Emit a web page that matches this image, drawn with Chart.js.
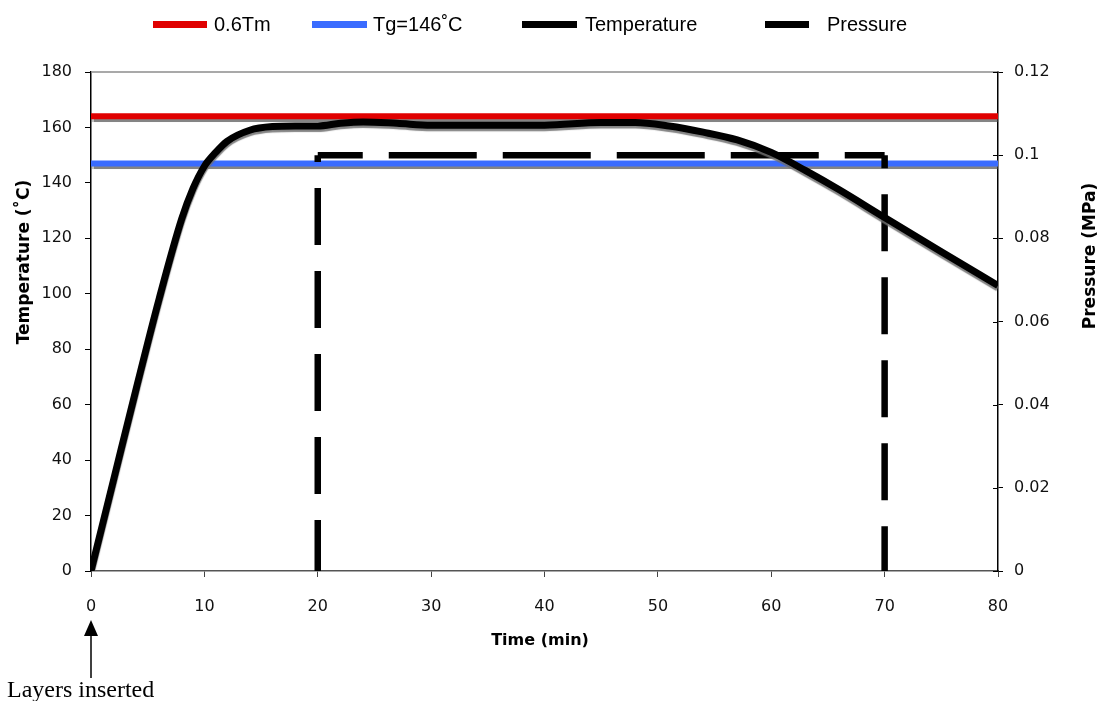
<!DOCTYPE html>
<html>
<head>
<meta charset="utf-8">
<script src="https://cdn.jsdelivr.net/npm/chart.js@4"></script>
<style>
  html, body { margin: 0; padding: 0; background: #fff; }
</style>
</head>
<body>
<canvas id="processChart" width="1100" height="701"></canvas>
<script>
// values
const timeMin = [0, 2, 4, 6, 8, 9, 10, 11, 12, 14, 16, 18, 20, 22, 24, 27, 30, 40, 45, 48, 51, 54, 57, 60, 63, 66, 70, 75, 80];
const tempC = [0, 33, 66, 98, 127, 138, 146, 151, 155, 159, 160.3, 160.5, 160.5, 161.5, 162, 161.5, 160.8, 160.8, 161.8, 161.8, 160.5, 158.3, 155.5, 151, 144.5, 137.5, 127.5, 115.2, 103];
const pressureTime = [20, 20, 70, 70];
const pressureMPa = [0, 0.1, 0.1, 0];
const refTime = [0, 80];
const tmLine = [164, 164];
const tgLine = [147, 147];
const timeTicks = [0, 10, 20, 30, 40, 50, 60, 70, 80];
const tempTicks = [0, 20, 40, 60, 80, 100, 120, 140, 160, 180];
const pressureTicks = [0, 0.02, 0.04, 0.06, 0.08, 0.1, 0.12];

const toPoints = (xs, ys) => xs.map((x, i) => ({ x: x, y: ys[i] }));
const tickFont = { family: 'DejaVu Sans', size: 16 };

// grey drop shadow under the solid lines
const shadowPlugin = {
  id: 'shadow',
  beforeDatasetDraw(chart, args) {
    const ctx = chart.ctx;
    ctx.save();
    if (chart.data.datasets[args.index].shadow) {
      ctx.shadowColor = 'rgba(110,110,110,0.85)';
      ctx.shadowOffsetY = 2.5;
      ctx.shadowBlur = 1;
    }
  },
  afterDatasetDraw(chart) {
    chart.ctx.restore();
  }
};

// frame, titles, legend and the arrow note
const decorPlugin = {
  id: 'decor',
  afterDraw(chart) {
    const ctx = chart.ctx;
    const a = chart.chartArea;
    const y1 = chart.scales.y1;
    ctx.save();
    ctx.strokeStyle = '#8c8c8c';
    ctx.lineWidth = 1.5;
    ctx.beginPath();
    ctx.moveTo(a.left, a.top);
    ctx.lineTo(a.right, a.top);
    ctx.stroke();

    // right ticks cross the axis
    ctx.strokeStyle = '#000';
    ctx.lineWidth = 1;
    pressureTicks.forEach(v => {
      const py = Math.round(y1.getPixelForValue(v)) + 0.5;
      ctx.beginPath();
      ctx.moveTo(a.right - 5, py);
      ctx.lineTo(a.right, py);
      ctx.stroke();
    });

    // axis titles
    ctx.fillStyle = '#000';
    ctx.font = 'bold 16px "DejaVu Sans"';
    ctx.textAlign = 'center';
    ctx.textBaseline = 'middle';
    ctx.fillText('Time (min)', 540, 641);
    ctx.font = 'bold 17px "DejaVu Sans"';
    ctx.save();
    ctx.translate(25, 262);
    ctx.rotate(-Math.PI / 2);
    ctx.fillText('Temperature (˚C)', 0, 0);
    ctx.restore();
    ctx.save();
    ctx.translate(1091, 256);
    ctx.rotate(-Math.PI / 2);
    ctx.fillText('Pressure (MPa)', 0, 0);
    ctx.restore();

    // legend
    const items = [
      { ds: 2, x0: 153, x1: 207, tx: 214 },
      { ds: 3, x0: 312, x1: 367, tx: 373 },
      { ds: 0, x0: 522, x1: 577, tx: 585 },
      { ds: 1, x0: 765, x1: 809, tx: 827 }
    ];
    ctx.font = '20px "Liberation Sans"';
    ctx.textAlign = 'left';
    items.forEach(it => {
      const d = chart.data.datasets[it.ds];
      ctx.fillStyle = d.borderColor;
      ctx.fillRect(it.x0, 21, it.x1 - it.x0, 7);
      ctx.fillStyle = '#000';
      ctx.fillText(d.label, it.tx, 25);
    });

    // "Layers inserted" arrow at t = 0
    const ax = chart.scales.x.getPixelForValue(0);
    ctx.strokeStyle = '#000';
    ctx.lineWidth = 1.5;
    ctx.beginPath();
    ctx.moveTo(ax, 632);
    ctx.lineTo(ax, 678);
    ctx.stroke();
    ctx.beginPath();
    ctx.moveTo(ax, 620);
    ctx.lineTo(ax - 7, 636);
    ctx.lineTo(ax + 7, 636);
    ctx.closePath();
    ctx.fill();
    ctx.font = '24px "Liberation Serif"';
    ctx.textAlign = 'left';
    ctx.textBaseline = 'alphabetic';
    ctx.fillText('Layers inserted', 7, 697);
    ctx.restore();
  }
};

new Chart(document.getElementById('processChart'), {
  type: 'line',
  data: {
    datasets: [
      {
        label: 'Temperature',
        data: toPoints(timeMin, tempC),
        yAxisID: 'y',
        borderColor: '#000',
        borderWidth: 7,
        cubicInterpolationMode: 'monotone',
        pointRadius: 0,
        shadow: true,
        order: 1
      },
      {
        label: 'Pressure',
        data: toPoints(pressureTime, pressureMPa),
        yAxisID: 'y1',
        borderColor: '#000',
        borderWidth: 6.5,
        borderCapStyle: 'butt',
        borderJoinStyle: 'miter',
        pointRadius: 0,
        tension: 0,
        borderDash: [57, 26],
        segment: {
          borderDash: c => c.p0DataIndex === 1 ? [88, 26] : [57, 26],
          borderDashOffset: c => c.p0DataIndex === 1 ? 43 : (c.p0DataIndex === 0 ? 6 : 44)
        },
        order: 2
      },
      {
        label: '0.6Tm',
        data: toPoints(refTime, tmLine),
        yAxisID: 'y',
        borderColor: '#e00000',
        borderWidth: 6,
        pointRadius: 0,
        shadow: true,
        order: 4
      },
      {
        label: 'Tg=146˚C',
        data: toPoints(refTime, tgLine),
        yAxisID: 'y',
        borderColor: '#3a6cff',
        borderWidth: 6,
        pointRadius: 0,
        shadow: true,
        order: 3
      }
    ]
  },
  options: {
    responsive: false,
    animation: false,
    layout: { padding: { top: 72, left: 0, right: 0, bottom: 0 } },
    plugins: {
      legend: { display: false },
      tooltip: { enabled: false }
    },
    scales: {
      x: {
        type: 'linear',
        min: 0,
        max: 80,
        afterBuildTicks: axis => { axis.ticks = timeTicks.map(v => ({ value: v })); },
        afterFit: scale => { scale.height = 130; },
        grid: { drawOnChartArea: false, tickLength: 6, color: '#444' },
        border: { color: '#555', width: 1.5 },
        ticks: { color: '#111', font: tickFont, padding: 20, maxRotation: 0 }
      },
      y: {
        position: 'left',
        min: 0,
        max: 180,
        afterBuildTicks: axis => { axis.ticks = tempTicks.map(v => ({ value: v })); },
        afterFit: scale => { scale.width = 91; },
        grid: { drawOnChartArea: false, tickLength: 6, color: '#000' },
        border: { color: '#000', width: 1.5 },
        ticks: { color: '#111', font: tickFont, padding: 13 }
      },
      y1: {
        position: 'right',
        min: 0,
        max: 0.12,
        afterBuildTicks: axis => { axis.ticks = pressureTicks.map(v => ({ value: v })); },
        afterFit: scale => { scale.width = 102; },
        grid: { drawOnChartArea: false, tickLength: 5, color: '#000' },
        border: { color: '#000', width: 1.5 },
        ticks: {
          color: '#111',
          font: tickFont,
          padding: 11,
          callback: v => String(Number(v.toFixed(2)))
        }
      }
    }
  },
  plugins: [shadowPlugin, decorPlugin]
});
</script>
</body>
</html>
